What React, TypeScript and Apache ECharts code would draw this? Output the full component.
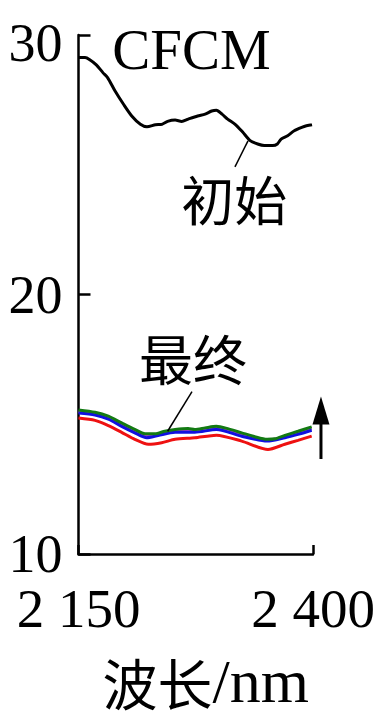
import React, { useEffect, useRef } from "react";
import * as echarts from "echarts";

// wavelength (nm) and value pairs
const initialWl = [2150.5, 2157, 2162, 2169, 2176, 2181, 2189, 2198, 2207, 2216, 2223, 2232, 2239, 2245, 2253, 2260, 2267, 2277, 2285, 2292, 2297, 2303, 2309, 2317, 2325, 2333, 2341, 2348, 2357, 2362, 2366, 2373, 2380, 2388, 2393, 2399];
const initialVal = [29.13, 29.13, 29.05, 28.85, 28.55, 28.36, 27.84, 27.33, 26.87, 26.56, 26.46, 26.54, 26.56, 26.67, 26.72, 26.67, 26.76, 26.88, 26.95, 27.07, 27.1, 26.95, 26.76, 26.56, 26.26, 25.93, 25.8, 25.74, 25.74, 25.8, 25.99, 26.12, 26.31, 26.44, 26.5, 26.54];

const greenWl = [2150, 2167.6, 2181.8, 2196, 2210, 2221, 2231.5, 2242, 2253, 2267, 2274, 2285, 2297, 2310, 2324, 2338, 2351, 2359.5, 2370, 2384, 2398.6];
const greenVal = [15.55, 15.46, 15.31, 15.05, 14.8, 14.63, 14.63, 14.73, 14.8, 14.84, 14.8, 14.86, 14.92, 14.82, 14.67, 14.52, 14.42, 14.44, 14.57, 14.73, 14.9];

const blueWl = [2150, 2167.6, 2181.8, 2196, 2210, 2222.7, 2235, 2253, 2274, 2297, 2324, 2351, 2370, 2384, 2398.6];
const blueVal = [15.43, 15.36, 15.2, 14.92, 14.67, 14.48, 14.57, 14.69, 14.69, 14.8, 14.54, 14.35, 14.48, 14.61, 14.77];

const purpleWl = [2150, 2167.6, 2181.8, 2196, 2210, 2222, 2235, 2253, 2274, 2297, 2324, 2351, 2370, 2384, 2398.6];
const purpleVal = [15.48, 15.4, 15.25, 14.98, 14.72, 14.54, 14.6, 14.74, 14.74, 14.85, 14.6, 14.39, 14.52, 14.66, 14.82];

const redWl = [2150, 2167.6, 2181.8, 2196, 2210, 2224.4, 2238.7, 2253, 2274, 2297, 2324, 2352, 2370, 2384, 2398.6];
const redVal = [15.24, 15.15, 14.95, 14.69, 14.42, 14.23, 14.29, 14.42, 14.48, 14.58, 14.35, 14.03, 14.23, 14.38, 14.54];

const xTickLabels: Record<number, string> = { 2150: "2 150", 2400: "2 400" };
const yTicks = [10, 20, 30];

// annotation anchors in data coordinates
const initialLabel = { text: "初始", at: [2316, 23.7], leaderFrom: [2330.7, 25.92], leaderTo: [2316.8, 24.92] };
const finalLabel = { text: "最终", at: [2272, 17.56], leaderFrom: [2271, 16.26], leaderTo: [2245, 14.73] };
const titleAnchor = [2186, 29.43];
const arrowAnchor = { x: 2408.5, from: 13.66, to: 16.07 };

const zip = (a: number[], b: number[]) => a.map((v, i) => [v, b[i]]);

const SERIF = "'Liberation Serif', 'Times New Roman', 'Noto Sans CJK SC', serif";
const CJK = "'Noto Sans CJK SC', sans-serif";

export default function App() {
  const ref = useRef<HTMLDivElement>(null);
  useEffect(() => {
    const chart = echarts.init(ref.current!, null, { renderer: "svg" });
    const lineSeries = (name: string, data: number[][], color: string, width: number) => ({
      name,
      type: "line",
      data,
      symbol: "none",
      smooth: 0.25,
      lineStyle: { color, width },
      z: 3,
    });
    chart.setOption({
      animation: false,
      grid: { left: 78.5, right: 71, top: 30, bottom: 166 },
      xAxis: {
        type: "value",
        min: 2150,
        max: 2400,
        interval: 250,
        splitLine: { show: false },
        axisLine: { lineStyle: { color: "#000", width: 2.5 } },
        axisTick: { inside: true, length: 9, lineStyle: { color: "#000", width: 2.5 } },
        axisLabel: {
          formatter: (v: number) => xTickLabels[v] ?? "",
          color: "#000",
          fontFamily: SERIF,
          fontSize: 55,
          lineHeight: 44,
          margin: 32,
        },
        name: "{cn|波长}{en|/nm}",
        nameLocation: "middle",
        nameGap: 96,
        nameTextStyle: {
          color: "#000",
          padding: [0, 0, 0, 20],
          rich: {
            cn: { fontFamily: CJK, fontSize: 55, color: "#000", lineHeight: 62 },
            en: { fontFamily: SERIF, fontSize: 62, color: "#000", lineHeight: 62 },
          },
        },
      },
      yAxis: {
        type: "value",
        min: yTicks[0],
        max: yTicks[yTicks.length - 1],
        interval: 10,
        splitLine: { show: false },
        axisLine: { lineStyle: { color: "#000", width: 2.5 } },
        axisTick: { inside: true, length: 12, lineStyle: { color: "#000", width: 2.5 } },
        axisLabel: {
          formatter: (v: number) => (v === 30 ? "{top|30}" : String(v)),
          color: "#000",
          fontFamily: SERIF,
          fontSize: 54,
          lineHeight: 44,
          margin: 16,
          rich: { top: { padding: [16, 0, 0, 0], fontFamily: SERIF, fontSize: 54, lineHeight: 44, color: "#000" } },
        },
      },
      series: [
        lineSeries("初始", zip(initialWl, initialVal), "#000", 3),
        lineSeries("red", zip(redWl, redVal), "#ee1111", 3),
        lineSeries("purple", zip(purpleWl, purpleVal), "#b040d0", 3),
        lineSeries("blue", zip(blueWl, blueVal), "#1010e0", 3),
        lineSeries("green", zip(greenWl, greenVal), "#137a13", 3),
      ],
    });

    const px = (p: number[]) => chart.convertToPixel({ gridIndex: 0 }, p) as number[];
    const t = px(titleAnchor);
    const il = px(initialLabel.at);
    const ilf = px(initialLabel.leaderFrom);
    const ilt = px(initialLabel.leaderTo);
    const fl = px(finalLabel.at);
    const flf = px(finalLabel.leaderFrom);
    const flt = px(finalLabel.leaderTo);
    const aBottom = px([arrowAnchor.x, arrowAnchor.from]);
    const aTop = px([arrowAnchor.x, arrowAnchor.to]);

    chart.setOption({
      graphic: [
        {
          type: "text",
          x: t[0],
          y: t[1],
          style: { text: "CFCM", fill: "#000", font: `57px ${SERIF}`, align: "left", verticalAlign: "middle" },
        },
        {
          type: "text",
          x: il[0],
          y: il[1],
          style: { text: initialLabel.text, fill: "#000", font: `53px ${CJK}`, align: "center", verticalAlign: "middle" },
        },
        {
          type: "line",
          shape: { x1: ilf[0], y1: ilf[1], x2: ilt[0], y2: ilt[1] },
          style: { stroke: "#000", lineWidth: 1.5 },
        },
        {
          type: "text",
          x: fl[0],
          y: fl[1],
          style: { text: finalLabel.text, fill: "#000", font: `54px ${CJK}`, align: "center", verticalAlign: "middle" },
        },
        {
          type: "line",
          shape: { x1: flf[0], y1: flf[1], x2: flt[0], y2: flt[1] },
          style: { stroke: "#000", lineWidth: 1.5 },
          z: 10,
        },
        {
          type: "line",
          shape: { x1: aBottom[0], y1: aBottom[1], x2: aTop[0], y2: aTop[1] + 20 },
          style: { stroke: "#000", lineWidth: 3 },
        },
        {
          type: "polygon",
          shape: {
            points: [
              [aTop[0] - 8.5, aTop[1] + 28],
              [aTop[0] + 8.5, aTop[1] + 28],
              [aTop[0], aTop[1]],
            ],
          },
          style: { fill: "#000" },
        },
      ],
    });
    return () => chart.dispose();
  }, []);
  return <div ref={ref} style={{ width: 384, height: 720, position: "absolute", left: 0, top: 0 }} />;
}
